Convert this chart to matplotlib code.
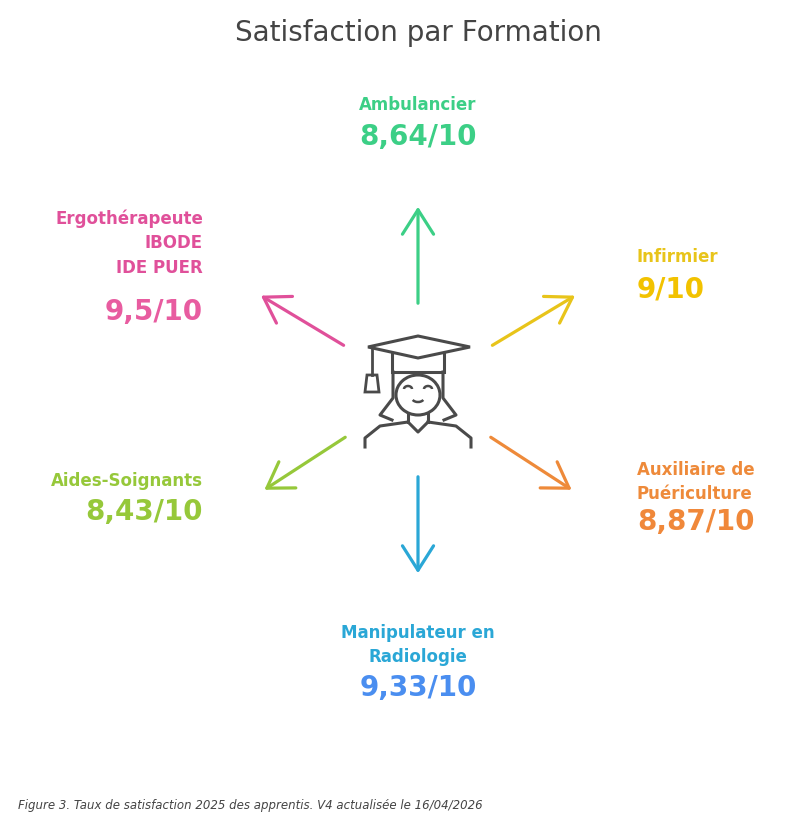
import matplotlib
matplotlib.use("Agg")
import matplotlib.pyplot as plt
import numpy as np
from matplotlib.patches import Polygon, Arc, FancyArrowPatch

names = ["Ambulancier", "Infirmier", "Auxiliaire de\nPuériculture",
         "Manipulateur en\nRadiologie", "Aides-Soignants", "Ergothérapeute\nIBODE\nIDE PUER"]
values = ["8,64/10", "9/10", "8,87/10", "9,33/10", "8,43/10", "9,5/10"]
label_colors = ["#3ccf86", "#e8c41a", "#ee8a3a", "#2aa7d6", "#96c83a", "#e0509a"]
value_colors = ["#3ccf86", "#f2c200", "#f0883a", "#4a8ef0", "#96c83a", "#e85ca0"]
angles = [90, 31, -33, -90, -147, 149]

fig = plt.figure(figsize=(8.02, 8.25), dpi=100)
ax = fig.add_axes([0, 0, 1, 1])
ax.set_xlim(0, 802); ax.set_ylim(825, 0); ax.axis("off")

cx, cy = 418, 390
for ang, col in zip(angles, label_colors):
    a = np.radians(ang)
    dx, dy = np.cos(a), -np.sin(a)
    r0, r1 = 84, 186
    ax.add_patch(FancyArrowPatch((cx + dx * r0, cy + dy * r0), (cx + dx * r1, cy + dy * r1),
                                 arrowstyle="->,head_length=11,head_width=7",
                                 color=col, lw=2.3, mutation_scale=1.6))

# icon
g = "#4a4a4a"
ax.add_patch(Polygon([(368, 347), (418, 336), (470, 347), (418, 358)], closed=True, fill=False, ec=g, lw=2.2))
ax.add_patch(Polygon([(392, 352), (392, 372), (444, 372), (444, 352)], closed=False, fill=False, ec=g, lw=2.2))
ax.plot([372, 372], [349, 375], color=g, lw=2)
ax.add_patch(Polygon([(367, 375), (377, 375), (379, 392), (365, 392)], closed=True, fill=False, ec=g, lw=2))
ax.plot([393, 393, 380, 392], [372, 398, 415, 420], color=g, lw=2.2)
ax.plot([443, 443, 456, 444], [372, 398, 415, 420], color=g, lw=2.2)
ax.add_patch(Arc((418, 395), 44, 40, theta1=0, theta2=360, ec=g, lw=2.2))
ax.add_patch(Arc((408, 389), 8, 6, theta1=180, theta2=360, ec=g, lw=1.8))
ax.add_patch(Arc((428, 389), 8, 6, theta1=180, theta2=360, ec=g, lw=1.8))
ax.add_patch(Arc((418, 398), 12, 8, theta1=20, theta2=160, ec=g, lw=1.8))
ax.plot([408, 408], [414, 422], color=g, lw=2.2); ax.plot([428, 428], [414, 422], color=g, lw=2.2)
ax.plot([408, 418, 428], [422, 432, 422], color=g, lw=2.2)
ax.plot([365, 365, 380, 408], [447, 438, 426, 422], color=g, lw=2.2)
ax.plot([471, 471, 456, 428], [447, 438, 426, 422], color=g, lw=2.2)

ax.text(418, 33, "Satisfaction par Formation", ha="center", va="center", fontsize=20, color="#444444")

lab = dict(fontsize=12, fontweight="bold", linespacing=1.45)
val = dict(fontsize=20, fontweight="bold")
ax.text(418, 105, names[0], ha="center", va="center", color=label_colors[0], **lab)
ax.text(418, 137, values[0], ha="center", va="center", color=value_colors[0], **val)
ax.text(637, 257, names[1], ha="left", va="center", color=label_colors[1], **lab)
ax.text(637, 290, values[1], ha="left", va="center", color=value_colors[1], **val)
ax.text(637, 482, names[2], ha="left", va="center", color=label_colors[2], **lab)
ax.text(637, 522, values[2], ha="left", va="center", color=value_colors[2], **val)
ax.text(418, 645, names[3], ha="center", va="center", color=label_colors[3], multialignment="center", **lab)
ax.text(418, 688, values[3], ha="center", va="center", color=value_colors[3], **val)
ax.text(203, 481, names[4], ha="right", va="center", color=label_colors[4], **lab)
ax.text(203, 512, values[4], ha="right", va="center", color=value_colors[4], **val)
ax.text(203, 243, names[5], ha="right", va="center", color=label_colors[5], multialignment="right", **lab)
ax.text(203, 312, values[5], ha="right", va="center", color=value_colors[5], **val)

ax.text(18, 805, "Figure 3. Taux de satisfaction 2025 des apprentis. V4 actualisée le 16/04/2026",
        ha="left", va="center", fontsize=8.5, style="italic", color="#444444")

fig.savefig("out.png", dpi=100, facecolor="white")
